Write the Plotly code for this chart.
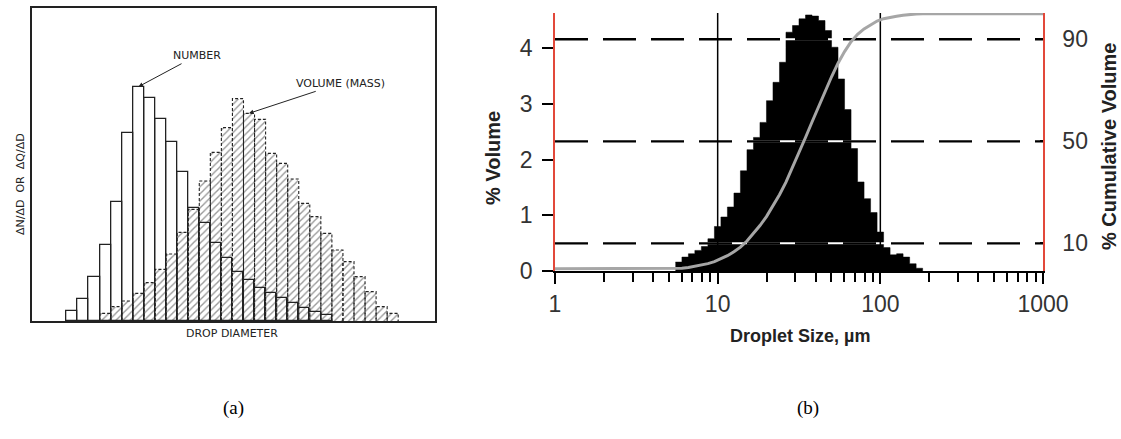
import numpy as np
import plotly.graph_objects as go

W, H = 1121, 439

# ---------------- data : panel (a) ----------------
a_number_bins = list(range(1, 25))
a_number = [3.0, 6.6, 13.3, 22.8, 35.7, 56.3, 70.3, 67.0, 60.6, 53.8, 44.6, 33.8,
            29.3, 23.3, 18.8, 14.8, 12.3, 9.8, 8.3, 6.8, 5.3, 3.8, 2.8, 1.8]
a_volume_bins = list(range(4, 31))
a_volume = [2.3, 4.3, 6.0, 8.3, 11.5, 15.5, 20.1, 26.6, 33.5, 42.0, 50.6, 58.0, 66.7,
            62.3, 60.5, 50.3, 47.3, 42.6, 35.3, 31.3, 26.3, 21.3, 17.8, 13.3, 8.8, 4.3, 2.3]
a_labels = ["NUMBER", "VOLUME (MASS)", "DROP DIAMETER", "ΔN/ΔD  OR  ΔQ/ΔD"]

# ---------------- data : panel (b) ----------------
b_size_edges = [5.50, 6.03, 6.61, 7.24, 7.94, 8.71, 9.55, 10.47, 11.48, 12.59, 13.80,
                15.14, 16.60, 18.20, 19.95, 21.88, 23.99, 26.30, 28.84, 31.62, 34.67,
                38.02, 41.69, 45.71, 50.12, 54.95, 60.26, 66.07, 72.44, 79.43, 87.10,
                95.50, 104.7, 114.8, 125.9, 138.0, 151.4, 166.0, 182.0]
b_volume = [0.16, 0.25, 0.31, 0.37, 0.44, 0.58, 0.80, 0.97, 1.15, 1.40,
            1.80, 2.18, 2.40, 2.67, 3.06, 3.39, 3.75, 4.29, 4.41, 4.53,
            4.60, 4.58, 4.50, 4.32, 4.02, 3.45, 2.90, 2.20, 1.60, 1.30,
            1.05, 0.70, 0.42, 0.29, 0.31, 0.25, 0.13, 0.05]
b_percentile_lines = [10, 50, 90]
b_marker_sizes = [10, 100]
b_x_ticks = [1, 10, 100, 1000]
b_x_ticktext = ["1", "10", "100", "1000"]
b_y_ticks = [0, 1, 2, 3, 4]
b_y2_ticks = [10, 50, 90]
b_titles = ["% Volume", "% Cumulative Volume", "Droplet Size, µm"]
captions = ["(a)", "(b)"]

RED = "#e2483a"
GRAY = "#a6a6a6"
INK = "#222222"
SANS = "Liberation Sans, Arial, sans-serif"
TECH = "DejaVu Sans, sans-serif"


def px_x(p):
    return p / W


def px_y(p):
    return 1 - p / H


fig = go.Figure()

# ---- panel (a) ----
fig.add_trace(go.Bar(
    x=a_volume_bins, y=a_volume, width=1, xaxis="x", yaxis="y",
    marker=dict(color="rgba(255,255,255,0)", line=dict(width=0),
                pattern=dict(shape="/", fgcolor="#333333", bgcolor="rgba(255,255,255,0)",
                             size=5, solidity=0.28)),
    showlegend=False, hoverinfo="skip"))
fig.add_trace(go.Bar(
    x=a_number_bins, y=a_number, width=1, xaxis="x", yaxis="y",
    marker=dict(color="rgba(255,255,255,0)", line=dict(width=1.3, color=INK)),
    showlegend=False, hoverinfo="skip"))
# dashed outline of volume bars
ox, oy = [], []
for b, v in zip(a_volume_bins, a_volume):
    ox += [b - 0.5, b - 0.5, b + 0.5, b + 0.5, None]
    oy += [0, v, v, 0, None]
fig.add_trace(go.Scatter(x=ox, y=oy, mode="lines", xaxis="x", yaxis="y",
                         line=dict(color=INK, width=1.1, dash="3px,2px"),
                         showlegend=False, hoverinfo="skip"))

# ---- panel (b) ----
fig.add_trace(go.Scatter(
    x=b_size_edges, y=b_volume + [0], mode="lines", line_shape="hv",
    fill="tozeroy", fillcolor="black", line=dict(color="black", width=0.5),
    xaxis="x2", yaxis="y2", showlegend=False, hoverinfo="skip"))

for lvl in b_percentile_lines:
    fig.add_trace(go.Scatter(x=[1, 1000], y=[lvl, lvl], mode="lines",
                             line=dict(color="white", width=2.0),
                             xaxis="x2", yaxis="y3", showlegend=False, hoverinfo="skip"))
    fig.add_trace(go.Scatter(x=[1, 1000], y=[lvl, lvl], mode="lines",
                             line=dict(color="black", width=2.3, dash="33px,15px"),
                             xaxis="x2", yaxis="y3", showlegend=False, hoverinfo="skip"))
for s in b_marker_sizes:
    fig.add_trace(go.Scatter(x=[s, s], y=[-0.86, 100.3], mode="lines",
                             line=dict(color="black", width=1.5),
                             xaxis="x2", yaxis="y3", showlegend=False, hoverinfo="skip"))

cum = np.cumsum(b_volume) / np.sum(b_volume) * 100
cum_x = [1, b_size_edges[0]] + b_size_edges[1:] + [1000]
cum_y = [0, 0] + list(cum) + [100]
fig.add_trace(go.Scatter(x=cum_x, y=cum_y, mode="lines",
                         line=dict(color=GRAY, width=3),
                         xaxis="x2", yaxis="y3", showlegend=False, hoverinfo="skip"))

tickfont = dict(family=SANS, size=23, color="#333333")
minor_vals = [m * d for d in (1, 10, 100) for m in range(2, 10)]

fig.update_layout(
    width=W, height=H, margin=dict(l=0, r=0, t=0, b=0, autoexpand=False),
    paper_bgcolor="white", plot_bgcolor="white", barmode="overlay", bargap=0,
    showlegend=False,
    xaxis=dict(domain=[px_x(32.3), px_x(435)], range=[-2.61, 33.83], anchor="y",
               showline=True, mirror=True, linecolor=INK, linewidth=1.5,
               showticklabels=False, ticks="", showgrid=False, zeroline=False),
    yaxis=dict(domain=[px_y(321), px_y(8)], range=[0, 93.9], anchor="x",
               showline=True, mirror=True, linecolor=INK, linewidth=1.5,
               showticklabels=False, ticks="", showgrid=False, zeroline=False),
    xaxis2=dict(type="log", range=[0, 3], domain=[px_x(555), px_x(1043)], anchor="y2",
                showline=True, linecolor="black", linewidth=1.5,
                ticks="outside", ticklen=11, tickwidth=1.5, tickcolor="black",
                tickvals=b_x_ticks, ticktext=b_x_ticktext, tickfont=tickfont,
                ticklabelstandoff=1,
                minor=dict(ticks="outside", ticklen=9, tickwidth=1.5, tickcolor="black",
                           tickvals=minor_vals),
                showgrid=False, zeroline=False),
    yaxis2=dict(domain=[px_y(271), px_y(13)], range=[0, 4.635], anchor="x2",
                showline=True, linecolor=RED, linewidth=1.5,
                ticks="outside", ticklen=11, tickwidth=1.5, tickcolor="black",
                tickvals=b_y_ticks, tickfont=tickfont, ticklabelstandoff=5,
                showgrid=False, zeroline=False),
    yaxis3=dict(overlaying="y2", side="right", anchor="x2", range=[-0.86, 100.3],
                showline=True, linecolor=RED, linewidth=1.5,
                ticks="inside", ticklen=3, tickwidth=1.5, tickcolor="black",
                tickvals=b_y2_ticks, tickfont=tickfont, ticklabelstandoff=13,
                showgrid=False, zeroline=False),
)

ann = []
afont = dict(family=TECH, size=11, color=INK)


def paper_text(px, py, text, font, angle=0):
    return dict(x=px_x(px), y=px_y(py), xref="paper", yref="paper", text=text,
                textangle=angle, showarrow=False, font=font,
                xanchor="center", yanchor="middle")


ann.append(dict(x=7, y=70.3, xref="x", yref="y", text=a_labels[0], showarrow=True,
                ax=58, ay=-31, arrowhead=2, arrowsize=0.9, arrowwidth=1, arrowcolor=INK,
                font=afont))
ann.append(dict(x=17, y=62.3, xref="x", yref="y", text=a_labels[1], showarrow=True,
                ax=91, ay=-30, arrowhead=2, arrowsize=0.9, arrowwidth=1, arrowcolor=INK,
                font=afont))
ann.append(paper_text(232, 333, a_labels[2], afont))
ann.append(paper_text(20, 184, a_labels[3], afont, -90))
# panel (b) titles
tfont = dict(family=SANS, size=20, color=INK)
ann.append(paper_text(493, 158, "<b>" + b_titles[0] + "</b>", tfont, -90))
ann.append(paper_text(1109, 147, "<b>" + b_titles[1] + "</b>", tfont, -90))
ann.append(paper_text(800, 336, "<b>" + b_titles[2] + "</b>",
                      dict(family=SANS, size=18, color=INK)))
# captions
cfont = dict(family="Liberation Serif, serif", size=19, color="black")
ann.append(paper_text(233, 408, captions[0], cfont))
ann.append(paper_text(808, 408, captions[1], cfont))
fig.update_layout(annotations=ann)

fig.write_html("out.html", config={"displayModeBar": False},
               post_script="document.body.style.margin='0px';"
                           "document.body.style.overflow='hidden';")
